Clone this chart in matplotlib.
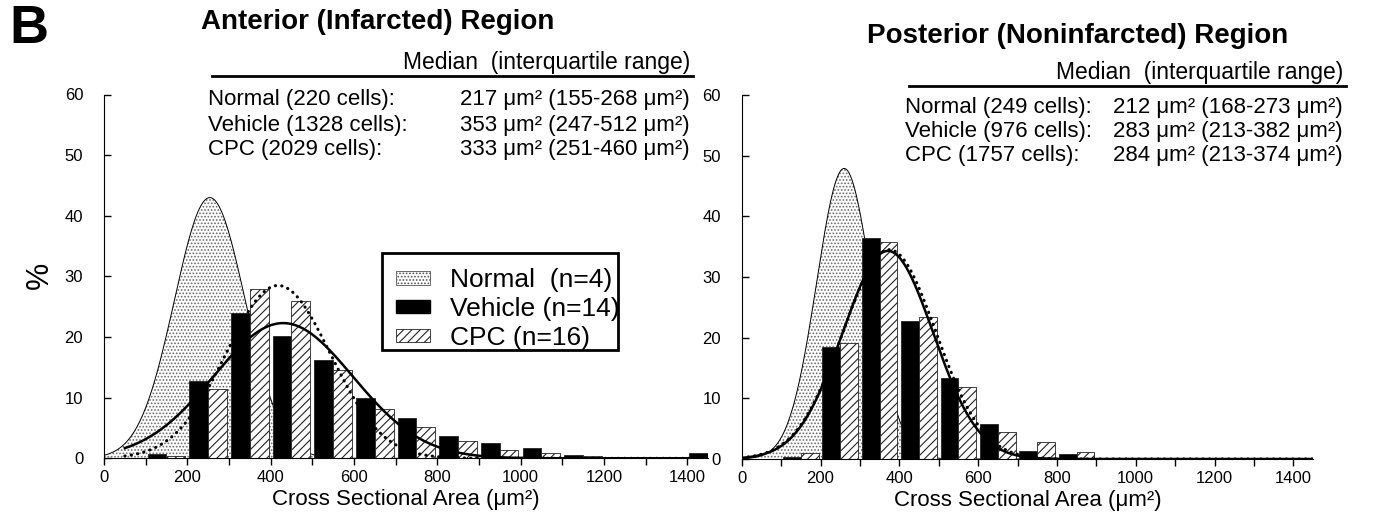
import matplotlib
matplotlib.use("Agg")
import matplotlib.pyplot as plt
import numpy as np
from matplotlib.patches import Patch, Rectangle
from matplotlib.ticker import MultipleLocator

plt.rcParams['font.family'] = ['Liberation Sans', 'DejaVu Sans']
plt.rcParams['hatch.linewidth'] = 0.8

# Histogram bins, each 100 um^2 wide (left edges)
bin_starts = [100, 200, 300, 400, 500, 600, 700, 800, 900, 1000, 1100, 1200, 1300, 1400]

# Percent of cells per bin
anterior_vehicle = [0.7, 12.8, 24.0, 20.1, 16.2, 10.0, 6.6, 3.7, 2.5, 1.7, 0.5, 0.2, 0.1, 0.9]
anterior_cpc = [0.3, 11.4, 27.9, 26.0, 14.6, 8.1, 5.1, 2.8, 1.3, 0.9, 0.3, 0.15, 0.1, 0.0]
posterior_vehicle = [0.3, 18.5, 36.5, 22.8, 13.4, 5.7, 1.3, 0.9, 0.1, 0.05, 0.0, 0.0, 0.0, 0.0]
posterior_cpc = [1.0, 19.2, 35.7, 23.4, 11.8, 4.5, 2.75, 1.1, 0.2, 0.1, 0.0, 0.0, 0.0, 0.0]

# Gaussian fits: peak (%), centre (um^2), sd (um^2), start of curve (um^2)
anterior_fit_normal = [43.0, 254, 85, 0]
anterior_fit_vehicle = [22.3, 430, 167, 50]
anterior_fit_cpc = [28.5, 418, 125, 50]
posterior_fit_normal = [47.9, 260, 70, 0]
posterior_fit_vehicle = [34.3, 371, 115, 0]
posterior_fit_cpc = [34.5, 375, 118, 0]

legend_labels = ["Normal  (n=4)", "Vehicle (n=14)", "CPC (n=16)"]
titles = ["Anterior (Infarcted) Region", "Posterior (Noninfarcted) Region"]
anterior_rows = [("Normal (220 cells):", "217 \u03bcm\u00b2 (155-268 \u03bcm\u00b2)"),
                 ("Vehicle (1328 cells):", "353 \u03bcm\u00b2 (247-512 \u03bcm\u00b2)"),
                 ("CPC (2029 cells):", "333 \u03bcm\u00b2 (251-460 \u03bcm\u00b2)")]
posterior_rows = [("Normal (249 cells):", "212 \u03bcm\u00b2 (168-273 \u03bcm\u00b2)"),
                  ("Vehicle (976 cells):", "283 \u03bcm\u00b2 (213-382 \u03bcm\u00b2)"),
                  ("CPC (1757 cells):", "284 \u03bcm\u00b2 (213-374 \u03bcm\u00b2)")]

W, H = 1390, 524
X_MAX = 1450


def gauss_curve(fit):
    peak, centre, sd, start = fit
    x = np.linspace(start, X_MAX, 400)
    return x, peak * np.exp(-(x - centre) ** 2 / (2.0 * sd ** 2))


def draw_panel(ax, vehicle, cpc, fit_normal, fit_vehicle, fit_cpc):
    starts = np.array(bin_starts)

    x, y = gauss_curve(fit_normal)
    ax.fill_between(x, 0, y, facecolor="white", edgecolor="#6a6a6a",
                    hatch=".....", linewidth=0, zorder=1)
    ax.plot(x, y, color="black", lw=0.7, zorder=1.5)

    ax.bar(starts + 5, vehicle, width=45, align="edge", color="black",
           edgecolor="#222222", linewidth=0.6, zorder=2)
    ax.bar(starts + 50, cpc, width=45, align="edge", color="white",
           edgecolor="#222222", hatch="////", linewidth=0.6, zorder=2)

    x, y = gauss_curve(fit_vehicle)
    ax.plot(x, y, color="black", lw=1.8, zorder=3)
    x, y = gauss_curve(fit_cpc)
    ax.plot(x, y, color="black", lw=2.2, linestyle=(0, (0.1, 2.0)),
            dash_capstyle="round", zorder=3)

    ax.set_xlim(0, X_MAX)
    ax.set_ylim(0, 60)
    ax.xaxis.set_major_locator(MultipleLocator(200))
    ax.xaxis.set_minor_locator(MultipleLocator(100))
    ax.yaxis.set_major_locator(MultipleLocator(10))
    ax.tick_params(axis="x", which="both", direction="out", length=5, width=1, labelsize=12)
    ax.tick_params(axis="y", direction="in", length=5, width=1, labelsize=12, pad=15)
    for side in ("top", "right"):
        ax.spines[side].set_visible(False)
    ax.set_xlabel("Cross Sectional Area (\u03bcm\u00b2)", fontsize=16, labelpad=3)


def px(x, y):
    return x / W, 1 - y / H


def stats_block(fig, rows, x_left, x_right, y_head, y_line, y_rows):
    fig.text(*px(x_right, y_head), "Median  (interquartile range)", ha="right",
             va="center", fontsize=16.5)
    fig.add_artist(plt.Line2D([(x_left + 4) / W, (x_right + 3) / W],
                              [1 - y_line / H, 1 - y_line / H], color="black", lw=2))
    for (label, value), yy in zip(rows, y_rows):
        fig.text(*px(x_left, yy), label, ha="left", va="center", fontsize=16)
        fig.text(*px(x_right, yy), value, ha="right", va="center", fontsize=16)


fig = plt.figure(figsize=(W / 100, H / 100), dpi=100)
ax1 = fig.add_axes([104 / W, 1 - 458.3 / H, 604 / W, 363.8 / H])
ax2 = fig.add_axes([741.7 / W, 1 - 459 / H, 571.3 / W, 364 / H])

draw_panel(ax1, anterior_vehicle, anterior_cpc,
           anterior_fit_normal, anterior_fit_vehicle, anterior_fit_cpc)
draw_panel(ax2, posterior_vehicle, posterior_cpc,
           posterior_fit_normal, posterior_fit_vehicle, posterior_fit_cpc)

# legend: box drawn separately so the labels may run over it, as in the original
handles = [Patch(facecolor="white", edgecolor="#555555", hatch=".....", linewidth=0.6),
           Patch(facecolor="black", edgecolor="black"),
           Patch(facecolor="white", edgecolor="#222222", hatch="////", linewidth=0.6)]
leg = ax1.legend(handles, legend_labels, loc="upper left", bbox_to_anchor=(0.483, 0.522),
                 fontsize=19, frameon=False, handlelength=1.3, handleheight=0.4,
                 handletextpad=0.75, labelspacing=0.18, borderpad=0, borderaxespad=0)
leg.set_zorder(5)
ax1.add_patch(Rectangle((0.460, 0.298), 0.391, 0.266, transform=ax1.transAxes,
                        facecolor="none", edgecolor="black", lw=2, zorder=5))

fig.text(*px(29, 29), "B", ha="center", va="center", fontsize=39, fontweight="bold")
fig.text(*px(40, 275), "%", ha="center", va="center", fontsize=22, rotation=90)
fig.text(*px(378, 22), titles[0], ha="center", va="center", fontsize=20, fontweight="bold")
fig.text(*px(1078, 36), titles[1], ha="center", va="center", fontsize=20, fontweight="bold")

stats_block(fig, anterior_rows, 208, 690, 62, 76, [100, 125, 150])
stats_block(fig, posterior_rows, 905, 1343, 72, 86, [107, 131, 155])

fig.savefig("out.png", dpi=100)
